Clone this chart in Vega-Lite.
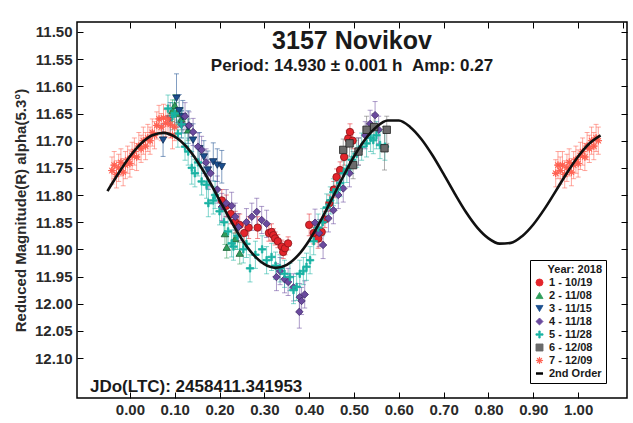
{
  "$schema": "https://vega.github.io/schema/vega-lite/v6.json",
  "width": 550,
  "height": 376,
  "autosize": {"type": "none"},
  "padding": {"left": 77, "top": 22, "right": 6, "bottom": 25},
  "background": "white",
  "title": {
    "text": "3157 Novikov",
    "subtitle": "Period: 14.930 ± 0.001 h\u00a0\u00a0Amp: 0.27",
    "anchor": "middle",
    "offset": -52,
    "font": "Liberation Sans",
    "fontSize": 25,
    "fontWeight": "bold",
    "color": "#1a1a1a",
    "subtitleFont": "Liberation Sans",
    "subtitleFontSize": 17,
    "subtitleFontWeight": "bold",
    "subtitleColor": "#1a1a1a",
    "subtitlePadding": 4
  },
  "config": {
    "view": {"stroke": "#000", "strokeWidth": 1.5},
    "axis": {
      "labelFont": "Liberation Sans",
      "labelFontSize": 15,
      "labelFontWeight": "bold",
      "labelColor": "#2a2a2a",
      "tickColor": "#000",
      "tickSize": -6,
      "tickWidth": 1,
      "domain": false,
      "grid": false,
      "titleFont": "Liberation Sans",
      "titleFontSize": 15,
      "titleFontWeight": "bold",
      "titleColor": "#2a2a2a"
    }
  },
  "datasets": {
    "obs": [
      {"phase":0.205,"mag":11.81,"err":0.02,"session":"1 - 10/19"},
      {"phase":0.215,"mag":11.82,"err":0.02,"session":"1 - 10/19"},
      {"phase":0.225,"mag":11.835,"err":0.018,"session":"1 - 10/19"},
      {"phase":0.235,"mag":11.85,"err":0.02,"session":"1 - 10/19"},
      {"phase":0.245,"mag":11.855,"err":0.02,"session":"1 - 10/19"},
      {"phase":0.255,"mag":11.87,"err":0.018,"session":"1 - 10/19"},
      {"phase":0.265,"mag":11.86,"err":0.02,"session":"1 - 10/19"},
      {"phase":0.285,"mag":11.86,"err":0.02,"session":"1 - 10/19"},
      {"phase":0.31,"mag":11.87,"err":0.015,"session":"1 - 10/19"},
      {"phase":0.316,"mag":11.868,"err":0.015,"session":"1 - 10/19"},
      {"phase":0.32,"mag":11.874,"err":0.012,"session":"1 - 10/19"},
      {"phase":0.324,"mag":11.88,"err":0.012,"session":"1 - 10/19"},
      {"phase":0.33,"mag":11.885,"err":0.012,"session":"1 - 10/19"},
      {"phase":0.339,"mag":11.895,"err":0.012,"session":"1 - 10/19"},
      {"phase":0.342,"mag":11.905,"err":0.012,"session":"1 - 10/19"},
      {"phase":0.346,"mag":11.898,"err":0.012,"session":"1 - 10/19"},
      {"phase":0.353,"mag":11.889,"err":0.012,"session":"1 - 10/19"},
      {"phase":0.40,"mag":11.855,"err":0.02,"session":"1 - 10/19"},
      {"phase":0.41,"mag":11.87,"err":0.02,"session":"1 - 10/19"},
      {"phase":0.42,"mag":11.88,"err":0.018,"session":"1 - 10/19"},
      {"phase":0.428,"mag":11.868,"err":0.018,"session":"1 - 10/19"},
      {"phase":0.435,"mag":11.845,"err":0.015,"session":"1 - 10/19"},
      {"phase":0.445,"mag":11.815,"err":0.015,"session":"1 - 10/19"},
      {"phase":0.455,"mag":11.79,"err":0.015,"session":"1 - 10/19"},
      {"phase":0.461,"mag":11.767,"err":0.015,"session":"1 - 10/19"},
      {"phase":0.469,"mag":11.754,"err":0.015,"session":"1 - 10/19"},
      {"phase":0.478,"mag":11.73,"err":0.015,"session":"1 - 10/19"},
      {"phase":0.487,"mag":11.696,"err":0.015,"session":"1 - 10/19"},
      {"phase":0.491,"mag":11.684,"err":0.015,"session":"1 - 10/19"},
      {"phase":0.497,"mag":11.70,"err":0.015,"session":"1 - 10/19"},

      {"phase":0.095,"mag":11.645,"err":0.02,"session":"2 - 11/08"},
      {"phase":0.1,"mag":11.635,"err":0.02,"session":"2 - 11/08"},
      {"phase":0.104,"mag":11.65,"err":0.02,"session":"2 - 11/08"},
      {"phase":0.115,"mag":11.66,"err":0.02,"session":"2 - 11/08"},
      {"phase":0.13,"mag":11.68,"err":0.02,"session":"2 - 11/08"},
      {"phase":0.212,"mag":11.871,"err":0.02,"session":"2 - 11/08"},
      {"phase":0.216,"mag":11.896,"err":0.02,"session":"2 - 11/08"},
      {"phase":0.235,"mag":11.88,"err":0.02,"session":"2 - 11/08"},
      {"phase":0.245,"mag":11.907,"err":0.02,"session":"2 - 11/08"},

      {"phase":0.074,"mag":11.699,"err":0.03,"session":"3 - 11/15"},
      {"phase":0.09,"mag":11.66,"err":0.03,"session":"3 - 11/15"},
      {"phase":0.104,"mag":11.622,"err":0.045,"session":"3 - 11/15"},
      {"phase":0.11,"mag":11.645,"err":0.03,"session":"3 - 11/15"},
      {"phase":0.118,"mag":11.656,"err":0.03,"session":"3 - 11/15"},
      {"phase":0.13,"mag":11.675,"err":0.03,"session":"3 - 11/15"},
      {"phase":0.141,"mag":11.699,"err":0.03,"session":"3 - 11/15"},
      {"phase":0.155,"mag":11.715,"err":0.03,"session":"3 - 11/15"},
      {"phase":0.165,"mag":11.73,"err":0.03,"session":"3 - 11/15"},
      {"phase":0.174,"mag":11.754,"err":0.035,"session":"3 - 11/15"},
      {"phase":0.186,"mag":11.739,"err":0.035,"session":"3 - 11/15"},
      {"phase":0.195,"mag":11.745,"err":0.03,"session":"3 - 11/15"},
      {"phase":0.205,"mag":11.748,"err":0.03,"session":"3 - 11/15"},

      {"phase":0.115,"mag":11.67,"err":0.025,"session":"4 - 11/18"},
      {"phase":0.123,"mag":11.655,"err":0.025,"session":"4 - 11/18"},
      {"phase":0.132,"mag":11.672,"err":0.025,"session":"4 - 11/18"},
      {"phase":0.141,"mag":11.684,"err":0.025,"session":"4 - 11/18"},
      {"phase":0.152,"mag":11.711,"err":0.025,"session":"4 - 11/18"},
      {"phase":0.16,"mag":11.717,"err":0.025,"session":"4 - 11/18"},
      {"phase":0.17,"mag":11.74,"err":0.025,"session":"4 - 11/18"},
      {"phase":0.18,"mag":11.76,"err":0.025,"session":"4 - 11/18"},
      {"phase":0.195,"mag":11.79,"err":0.025,"session":"4 - 11/18"},
      {"phase":0.205,"mag":11.822,"err":0.025,"session":"4 - 11/18"},
      {"phase":0.215,"mag":11.815,"err":0.025,"session":"4 - 11/18"},
      {"phase":0.227,"mag":11.82,"err":0.025,"session":"4 - 11/18"},
      {"phase":0.235,"mag":11.84,"err":0.025,"session":"4 - 11/18"},
      {"phase":0.242,"mag":11.859,"err":0.025,"session":"4 - 11/18"},
      {"phase":0.26,"mag":11.85,"err":0.025,"session":"4 - 11/18"},
      {"phase":0.272,"mag":11.84,"err":0.025,"session":"4 - 11/18"},
      {"phase":0.283,"mag":11.831,"err":0.025,"session":"4 - 11/18"},
      {"phase":0.294,"mag":11.846,"err":0.025,"session":"4 - 11/18"},
      {"phase":0.305,"mag":11.853,"err":0.025,"session":"4 - 11/18"},
      {"phase":0.327,"mag":11.951,"err":0.025,"session":"4 - 11/18"},
      {"phase":0.335,"mag":11.94,"err":0.025,"session":"4 - 11/18"},
      {"phase":0.345,"mag":11.955,"err":0.025,"session":"4 - 11/18"},
      {"phase":0.353,"mag":11.96,"err":0.025,"session":"4 - 11/18"},
      {"phase":0.365,"mag":11.97,"err":0.025,"session":"4 - 11/18"},
      {"phase":0.379,"mag":11.988,"err":0.025,"session":"4 - 11/18"},
      {"phase":0.378,"mag":12.015,"err":0.03,"session":"4 - 11/18"},
      {"phase":0.383,"mag":11.995,"err":0.025,"session":"4 - 11/18"},
      {"phase":0.39,"mag":11.983,"err":0.025,"session":"4 - 11/18"},
      {"phase":0.413,"mag":11.851,"err":0.025,"session":"4 - 11/18"},
      {"phase":0.422,"mag":11.87,"err":0.025,"session":"4 - 11/18"},
      {"phase":0.431,"mag":11.892,"err":0.025,"session":"4 - 11/18"},
      {"phase":0.443,"mag":11.843,"err":0.025,"session":"4 - 11/18"},
      {"phase":0.454,"mag":11.828,"err":0.025,"session":"4 - 11/18"},
      {"phase":0.465,"mag":11.80,"err":0.025,"session":"4 - 11/18"},
      {"phase":0.476,"mag":11.788,"err":0.025,"session":"4 - 11/18"},
      {"phase":0.49,"mag":11.76,"err":0.025,"session":"4 - 11/18"},
      {"phase":0.51,"mag":11.72,"err":0.025,"session":"4 - 11/18"},
      {"phase":0.525,"mag":11.69,"err":0.025,"session":"4 - 11/18"},
      {"phase":0.536,"mag":11.669,"err":0.025,"session":"4 - 11/18"},
      {"phase":0.547,"mag":11.653,"err":0.025,"session":"4 - 11/18"},
      {"phase":0.555,"mag":11.68,"err":0.025,"session":"4 - 11/18"},

      {"phase":0.085,"mag":11.641,"err":0.025,"session":"5 - 11/28"},
      {"phase":0.095,"mag":11.655,"err":0.025,"session":"5 - 11/28"},
      {"phase":0.10,"mag":11.65,"err":0.025,"session":"5 - 11/28"},
      {"phase":0.107,"mag":11.687,"err":0.025,"session":"5 - 11/28"},
      {"phase":0.115,"mag":11.67,"err":0.025,"session":"5 - 11/28"},
      {"phase":0.123,"mag":11.711,"err":0.025,"session":"5 - 11/28"},
      {"phase":0.13,"mag":11.72,"err":0.025,"session":"5 - 11/28"},
      {"phase":0.138,"mag":11.75,"err":0.03,"session":"5 - 11/28"},
      {"phase":0.145,"mag":11.76,"err":0.025,"session":"5 - 11/28"},
      {"phase":0.152,"mag":11.74,"err":0.025,"session":"5 - 11/28"},
      {"phase":0.16,"mag":11.775,"err":0.025,"session":"5 - 11/28"},
      {"phase":0.171,"mag":11.781,"err":0.025,"session":"5 - 11/28"},
      {"phase":0.175,"mag":11.815,"err":0.025,"session":"5 - 11/28"},
      {"phase":0.186,"mag":11.81,"err":0.025,"session":"5 - 11/28"},
      {"phase":0.19,"mag":11.80,"err":0.025,"session":"5 - 11/28"},
      {"phase":0.20,"mag":11.83,"err":0.025,"session":"5 - 11/28"},
      {"phase":0.21,"mag":11.85,"err":0.025,"session":"5 - 11/28"},
      {"phase":0.219,"mag":11.867,"err":0.025,"session":"5 - 11/28"},
      {"phase":0.227,"mag":11.889,"err":0.025,"session":"5 - 11/28"},
      {"phase":0.231,"mag":11.895,"err":0.025,"session":"5 - 11/28"},
      {"phase":0.24,"mag":11.875,"err":0.025,"session":"5 - 11/28"},
      {"phase":0.253,"mag":11.9,"err":0.025,"session":"5 - 11/28"},
      {"phase":0.26,"mag":11.89,"err":0.025,"session":"5 - 11/28"},
      {"phase":0.268,"mag":11.935,"err":0.025,"session":"5 - 11/28"},
      {"phase":0.28,"mag":11.91,"err":0.025,"session":"5 - 11/28"},
      {"phase":0.295,"mag":11.90,"err":0.025,"session":"5 - 11/28"},
      {"phase":0.305,"mag":11.92,"err":0.025,"session":"5 - 11/28"},
      {"phase":0.316,"mag":11.914,"err":0.025,"session":"5 - 11/28"},
      {"phase":0.325,"mag":11.93,"err":0.025,"session":"5 - 11/28"},
      {"phase":0.335,"mag":11.935,"err":0.025,"session":"5 - 11/28"},
      {"phase":0.345,"mag":11.945,"err":0.025,"session":"5 - 11/28"},
      {"phase":0.357,"mag":11.951,"err":0.025,"session":"5 - 11/28"},
      {"phase":0.365,"mag":11.975,"err":0.025,"session":"5 - 11/28"},
      {"phase":0.372,"mag":11.969,"err":0.025,"session":"5 - 11/28"},
      {"phase":0.379,"mag":11.945,"err":0.025,"session":"5 - 11/28"},
      {"phase":0.387,"mag":11.94,"err":0.025,"session":"5 - 11/28"},
      {"phase":0.394,"mag":11.932,"err":0.025,"session":"5 - 11/28"},
      {"phase":0.402,"mag":11.92,"err":0.025,"session":"5 - 11/28"},
      {"phase":0.41,"mag":11.885,"err":0.025,"session":"5 - 11/28"},
      {"phase":0.42,"mag":11.86,"err":0.025,"session":"5 - 11/28"},
      {"phase":0.43,"mag":11.85,"err":0.025,"session":"5 - 11/28"},
      {"phase":0.439,"mag":11.823,"err":0.025,"session":"5 - 11/28"},
      {"phase":0.447,"mag":11.81,"err":0.025,"session":"5 - 11/28"},
      {"phase":0.454,"mag":11.795,"err":0.025,"session":"5 - 11/28"},
      {"phase":0.462,"mag":11.79,"err":0.025,"session":"5 - 11/28"},
      {"phase":0.469,"mag":11.778,"err":0.025,"session":"5 - 11/28"},
      {"phase":0.477,"mag":11.76,"err":0.025,"session":"5 - 11/28"},
      {"phase":0.484,"mag":11.752,"err":0.025,"session":"5 - 11/28"},
      {"phase":0.495,"mag":11.735,"err":0.025,"session":"5 - 11/28"},
      {"phase":0.506,"mag":11.724,"err":0.025,"session":"5 - 11/28"},
      {"phase":0.517,"mag":11.711,"err":0.025,"session":"5 - 11/28"},
      {"phase":0.528,"mag":11.705,"err":0.025,"session":"5 - 11/28"},
      {"phase":0.537,"mag":11.695,"err":0.025,"session":"5 - 11/28"},
      {"phase":0.543,"mag":11.699,"err":0.025,"session":"5 - 11/28"},
      {"phase":0.55,"mag":11.69,"err":0.025,"session":"5 - 11/28"},
      {"phase":0.558,"mag":11.708,"err":0.025,"session":"5 - 11/28"},
      {"phase":0.569,"mag":11.711,"err":0.025,"session":"5 - 11/28"},

      {"phase":0.476,"mag":11.717,"err":0.02,"session":"6 - 12/08"},
      {"phase":0.49,"mag":11.705,"err":0.025,"session":"6 - 12/08"},
      {"phase":0.498,"mag":11.745,"err":0.025,"session":"6 - 12/08"},
      {"phase":0.51,"mag":11.72,"err":0.025,"session":"6 - 12/08"},
      {"phase":0.528,"mag":11.68,"err":0.025,"session":"6 - 12/08"},
      {"phase":0.545,"mag":11.675,"err":0.025,"session":"6 - 12/08"},
      {"phase":0.568,"mag":11.714,"err":0.04,"session":"6 - 12/08"},
      {"phase":0.573,"mag":11.68,"err":0.025,"session":"6 - 12/08"},

      {"phase":-0.04,"mag":11.755,"err":0.025,"session":"7 - 12/09"},
      {"phase":-0.035,"mag":11.745,"err":0.025,"session":"7 - 12/09"},
      {"phase":-0.03,"mag":11.762,"err":0.025,"session":"7 - 12/09"},
      {"phase":-0.025,"mag":11.75,"err":0.025,"session":"7 - 12/09"},
      {"phase":-0.02,"mag":11.74,"err":0.025,"session":"7 - 12/09"},
      {"phase":-0.015,"mag":11.758,"err":0.025,"session":"7 - 12/09"},
      {"phase":-0.01,"mag":11.745,"err":0.025,"session":"7 - 12/09"},
      {"phase":-0.005,"mag":11.735,"err":0.025,"session":"7 - 12/09"},
      {"phase":0.0,"mag":11.742,"err":0.025,"session":"7 - 12/09"},
      {"phase":0.005,"mag":11.728,"err":0.025,"session":"7 - 12/09"},
      {"phase":0.01,"mag":11.72,"err":0.025,"session":"7 - 12/09"},
      {"phase":0.015,"mag":11.73,"err":0.025,"session":"7 - 12/09"},
      {"phase":0.02,"mag":11.71,"err":0.025,"session":"7 - 12/09"},
      {"phase":0.025,"mag":11.715,"err":0.025,"session":"7 - 12/09"},
      {"phase":0.03,"mag":11.70,"err":0.025,"session":"7 - 12/09"},
      {"phase":0.035,"mag":11.71,"err":0.025,"session":"7 - 12/09"},
      {"phase":0.04,"mag":11.695,"err":0.025,"session":"7 - 12/09"},
      {"phase":0.045,"mag":11.70,"err":0.025,"session":"7 - 12/09"},
      {"phase":0.05,"mag":11.685,"err":0.025,"session":"7 - 12/09"},
      {"phase":0.055,"mag":11.69,"err":0.025,"session":"7 - 12/09"},
      {"phase":0.06,"mag":11.672,"err":0.025,"session":"7 - 12/09"},
      {"phase":0.065,"mag":11.66,"err":0.025,"session":"7 - 12/09"},
      {"phase":0.07,"mag":11.675,"err":0.025,"session":"7 - 12/09"},
      {"phase":0.075,"mag":11.658,"err":0.025,"session":"7 - 12/09"},
      {"phase":0.08,"mag":11.668,"err":0.025,"session":"7 - 12/09"},
      {"phase":0.085,"mag":11.66,"err":0.025,"session":"7 - 12/09"},
      {"phase":0.09,"mag":11.67,"err":0.025,"session":"7 - 12/09"},
      {"phase":0.095,"mag":11.69,"err":0.025,"session":"7 - 12/09"},
      {"phase":0.10,"mag":11.675,"err":0.025,"session":"7 - 12/09"},
      {"phase":0.95,"mag":11.76,"err":0.025,"session":"7 - 12/09"},
      {"phase":0.955,"mag":11.745,"err":0.025,"session":"7 - 12/09"},
      {"phase":0.96,"mag":11.755,"err":0.025,"session":"7 - 12/09"},
      {"phase":0.965,"mag":11.745,"err":0.025,"session":"7 - 12/09"},
      {"phase":0.97,"mag":11.762,"err":0.025,"session":"7 - 12/09"},
      {"phase":0.975,"mag":11.75,"err":0.025,"session":"7 - 12/09"},
      {"phase":0.98,"mag":11.74,"err":0.025,"session":"7 - 12/09"},
      {"phase":0.985,"mag":11.758,"err":0.025,"session":"7 - 12/09"},
      {"phase":0.99,"mag":11.745,"err":0.025,"session":"7 - 12/09"},
      {"phase":0.995,"mag":11.735,"err":0.025,"session":"7 - 12/09"},
      {"phase":1.0,"mag":11.742,"err":0.025,"session":"7 - 12/09"},
      {"phase":1.005,"mag":11.728,"err":0.025,"session":"7 - 12/09"},
      {"phase":1.01,"mag":11.72,"err":0.025,"session":"7 - 12/09"},
      {"phase":1.015,"mag":11.73,"err":0.025,"session":"7 - 12/09"},
      {"phase":1.02,"mag":11.71,"err":0.025,"session":"7 - 12/09"},
      {"phase":1.025,"mag":11.715,"err":0.025,"session":"7 - 12/09"},
      {"phase":1.03,"mag":11.70,"err":0.025,"session":"7 - 12/09"},
      {"phase":1.035,"mag":11.71,"err":0.025,"session":"7 - 12/09"},
      {"phase":1.04,"mag":11.695,"err":0.025,"session":"7 - 12/09"},
      {"phase":1.045,"mag":11.70,"err":0.025,"session":"7 - 12/09"}
    ],
    "fit": [
      {"phase":-0.05,"mag":11.7928},{"phase":-0.025,"mag":11.7595},{"phase":0,"mag":11.7292},
      {"phase":0.025,"mag":11.7052},{"phase":0.05,"mag":11.6901},{"phase":0.075,"mag":11.6856},
      {"phase":0.1,"mag":11.6924},{"phase":0.125,"mag":11.7102},{"phase":0.15,"mag":11.7373},
      {"phase":0.175,"mag":11.7715},{"phase":0.2,"mag":11.8093},{"phase":0.225,"mag":11.8473},
      {"phase":0.25,"mag":11.8818},{"phase":0.275,"mag":11.9094},{"phase":0.3,"mag":11.9274},
      {"phase":0.325,"mag":11.9341},{"phase":0.35,"mag":11.9285},{"phase":0.375,"mag":11.9112},
      {"phase":0.4,"mag":11.8836},{"phase":0.425,"mag":11.8482},{"phase":0.45,"mag":11.8082},
      {"phase":0.475,"mag":11.7673},{"phase":0.5,"mag":11.7292},{"phase":0.525,"mag":11.6974},
      {"phase":0.55,"mag":11.6747},{"phase":0.575,"mag":11.6629},{"phase":0.6,"mag":11.663},
      {"phase":0.625,"mag":11.6748},{"phase":0.65,"mag":11.6969},{"phase":0.675,"mag":11.7269},
      {"phase":0.7,"mag":11.7617},{"phase":0.725,"mag":11.7979},{"phase":0.75,"mag":11.8318},
      {"phase":0.775,"mag":11.86},{"phase":0.8,"mag":11.8798},{"phase":0.825,"mag":11.8895},
      {"phase":0.85,"mag":11.8881},{"phase":0.875,"mag":11.8758},{"phase":0.9,"mag":11.8542},
      {"phase":0.925,"mag":11.8255},{"phase":0.95,"mag":11.7928},{"phase":0.975,"mag":11.7595},
      {"phase":1.0,"mag":11.7292},{"phase":1.025,"mag":11.7052},{"phase":1.05,"mag":11.6901}
    ]
  },
  "layer": [
    {
      "data": {"name": "obs"},
      "mark": {"type": "errorbar", "ticks": true, "thickness": 1, "opacity": 0.55},
      "encoding": {
        "x": {"field": "phase", "type": "quantitative", "scale": {"domain": [-0.118, 1.109], "nice": false, "zero": false},
              "axis": {"orient": "bottom", "values": [0,0.1,0.2,0.3,0.4,0.5,0.6,0.7,0.8,0.9,1.0], "format": ".2f", "title": null, "labelPadding": 10}},
        "y": {"field": "mag", "type": "quantitative", "scale": {"domain": [11.4816, 12.1736], "reverse": true, "nice": false, "zero": false},
              "axis": {"orient": "left", "values": [11.5,11.55,11.6,11.65,11.7,11.75,11.8,11.85,11.9,11.95,12.0,12.05,12.1], "format": ".2f", "title": "Reduced Magnitude(R) alpha(5.3°)", "labelPadding": 11, "titlePadding": 6}},
        "yError": {"field": "err"},
        "color": {"field": "session", "type": "nominal",
                  "scale": {"domain": ["1 - 10/19","2 - 11/08","3 - 11/15","4 - 11/18","5 - 11/28","6 - 12/08","7 - 12/09","2nd Order"],
                            "range": ["#e3242b","#2e9e5b","#1b4f8f","#6a4a9e","#19b3a3","#6b6b6b","#ff5e4f","#000000"]}}
      }
    },
    {
      "data": {"name": "obs"},
      "mark": {"type": "point", "filled": true, "opacity": 1, "size": 55, "strokeWidth": 0.8},
      "encoding": {
        "x": {"field": "phase", "type": "quantitative", "scale": {"domain": [-0.118, 1.109], "nice": false, "zero": false}, "axis": null},
        "y": {"field": "mag", "type": "quantitative", "scale": {"domain": [11.4816, 12.1736], "reverse": true, "nice": false, "zero": false}, "axis": null},
        "color": {"field": "session", "type": "nominal",
                  "scale": {"domain": ["1 - 10/19","2 - 11/08","3 - 11/15","4 - 11/18","5 - 11/28","6 - 12/08","7 - 12/09","2nd Order"],
                            "range": ["#e3242b","#2e9e5b","#1b4f8f","#6a4a9e","#19b3a3","#6b6b6b","#ff5e4f","#000000"]},
                  "legend": {"orient": "none", "legendX": 453, "legendY": 238, "title": "Year: 2018",
                             "titleFont": "Liberation Sans", "titleFontSize": 11, "titleFontWeight": "bold", "titleColor": "#1a1a1a", "titleAnchor": "end", "titlePadding": 2,
                             "labelFont": "Liberation Sans", "labelFontSize": 11, "labelFontWeight": "bold", "labelColor": "#1a1a1a",
                             "strokeColor": "#000", "fillColor": "#fff", "padding": 4, "symbolSize": 50, "rowPadding": 1, "symbolOpacity": 1,
                             "encode": {"symbols": {"update": {"strokeWidth": {"signal": "datum.value === '2nd Order' ? 2.5 : 0.8"}}}}}},
        "shape": {"field": "session", "type": "nominal",
                  "scale": {"domain": ["1 - 10/19","2 - 11/08","3 - 11/15","4 - 11/18","5 - 11/28","6 - 12/08","7 - 12/09","2nd Order"],
                            "range": ["circle","triangle-up","triangle-down","diamond",
                                      "M-1,-0.2L-0.2,-0.2L-0.2,-1L0.2,-1L0.2,-0.2L1,-0.2L1,0.2L0.2,0.2L0.2,1L-0.2,1L-0.2,0.2L-1,0.2Z",
                                      "square",
                                      "M1,0L0.28,0.12L0.71,0.71L0.12,0.28L0,1L-0.12,0.28L-0.71,0.71L-0.28,0.12L-1,0L-0.28,-0.12L-0.71,-0.71L-0.12,-0.28L0,-1L0.12,-0.28L0.71,-0.71L0.28,-0.12Z",
                                      "stroke"]}},
        "stroke": {"field": "session", "type": "nominal",
                   "scale": {"domain": ["1 - 10/19","2 - 11/08","3 - 11/15","4 - 11/18","5 - 11/28","6 - 12/08","7 - 12/09","2nd Order"],
                             "range": ["#8a1418","#1c5e36","#0f2f58","#40296a","#19b3a3","#222222","#ff5e4f","#000000"]}}
      }
    },
    {
      "data": {"name": "fit"},
      "mark": {"type": "line", "color": "#111", "strokeWidth": 2.6, "interpolate": "monotone"},
      "encoding": {
        "x": {"field": "phase", "type": "quantitative", "scale": {"domain": [-0.118, 1.109], "nice": false, "zero": false},
              "axis": {"orient": "top", "values": [0,0.1,0.2,0.3,0.4,0.5,0.6,0.7,0.8,0.9,1.0,1.1], "labels": false, "title": null}},
        "y": {"field": "mag", "type": "quantitative", "scale": {"domain": [11.4816, 12.1736], "reverse": true, "nice": false, "zero": false},
              "axis": {"orient": "right", "values": [11.5,11.55,11.6,11.65,11.7,11.75,11.8,11.85,11.9,11.95,12.0,12.05,12.1], "labels": false, "title": null}}
      }
    },
    {
      "data": {"values": [{"label": "JDo(LTC): 2458411.341953"}]},
      "mark": {"type": "text", "align": "left", "baseline": "alphabetic", "font": "Liberation Sans", "fontSize": 17, "fontWeight": "bold", "color": "#1a1a1a"},
      "encoding": {
        "x": {"datum": -0.089, "type": "quantitative", "scale": {"domain": [-0.118, 1.109], "nice": false, "zero": false}, "axis": null},
        "y": {"datum": 12.163, "type": "quantitative", "scale": {"domain": [11.4816, 12.1736], "reverse": true, "nice": false, "zero": false}, "axis": null},
        "text": {"field": "label"}
      }
    }
  ],
  "resolve": {"axis": {"x": "independent", "y": "independent"}}
}
